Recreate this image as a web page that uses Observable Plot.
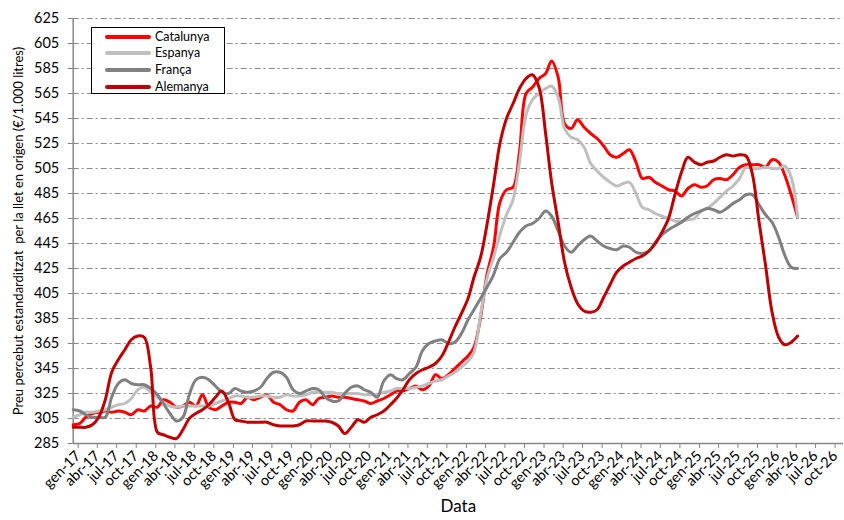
<!DOCTYPE html>
<html>
<head>
<meta charset="utf-8">
<script src="https://cdn.jsdelivr.net/npm/d3@7"></script>
<script src="https://cdn.jsdelivr.net/npm/@observablehq/plot@0.6"></script>
<style>
  body { margin: 0; background: #fff; }
  #wrap { position: relative; width: 844px; height: 520px; font-family: Lato, "Open Sans", sans-serif; }
  #legend { position: absolute; left: 91px; top: 27px; width: 134px; height: 67px; border: 1px solid #000;
            background: #fff; box-sizing: border-box; }
  .lrow { position: absolute; left: 0; height: 16px; font-size: 12.5px; color: #000; }
  .lsw { position: absolute; left: 13px; top: 6px; width: 46px; height: 4px; border-radius: 2px; }
  .ltx { position: absolute; left: 63px; top: 0; white-space: nowrap; line-height: 16px; }
</style>
</head>
<body>
<div id="wrap"></div>
<script>
// ---- data (monthly, gen-17 onwards) ----
const seriesNames = ["Catalunya", "Espanya", "França", "Alemanya"];
const seriesColors = ["#ff0000", "#bfbfbf", "#808080", "#c00000"];

const catalunya = [
  300,301,306,309,310,311,310,311,310,308,
  312,311,315,314,320,318,314,315,318,315,
  324,314,312,315,318,318,317,322,320,322,
  324,318,316,312,311,318,320,316,321,322,
  323,322,322,321,320,319,317,319,321,324,
  327,327,329,331,328,331,340,337,340,345,
  350,355,362,386,420,442,478,488,490,518,
  565,570,577,581,591,578,541,537,544,538,
  533,529,523,516,514,517,520,510,497,498,
  494,491,488,487,483,489,492,490,491,496,
  497,496,500,506,508,508,508,506,512,510,
  500,484,466
];
const espanya = [
  306,308,310,310,311,312,314,316,317,321,
  328,330,326,322,318,315,314,315,315,315,
  315,315,317,319,321,323,323,322,322,323,
  323,322,322,324,323,323,324,326,326,326,
  326,325,325,325,325,324,324,324,326,327,
  329,329,329,330,331,333,335,336,339,342,
  346,351,358,388,417,434,452,468,480,510,
  548,560,565,569,571,562,537,530,528,522,
  509,503,498,494,491,493,494,485,474,472,
  469,467,465,463,463,464,465,471,473,477,
  482,487,491,497,506,505,505,506,505,505,
  507,498,466
];
const franca = [
  312,311,308,306,306,306,322,333,336,333,
  332,332,329,324,317,309,303,306,324,336,
  338,336,331,326,325,329,327,326,327,330,
  337,342,342,338,328,325,327,329,328,322,
  319,319,325,330,331,328,326,322,335,340,
  337,336,341,346,359,365,367,368,365,366,
  373,384,392,401,410,420,433,438,446,454,
  459,461,465,471,467,455,443,438,443,448,
  451,447,443,441,440,443,442,438,437,439,
  446,452,456,459,462,466,469,471,473,472,
  470,473,477,480,484,484,476,468,462,450,
  436,426,425
];
const alemanya = [
  298,298,298,300,306,320,342,352,360,368,
  371,370,345,294,292,290,289,296,305,309,
  312,316,322,327,318,304,303,302,302,302,
  302,300,299,299,299,300,303,303,303,303,
  302,299,293,298,304,302,306,308,311,316,
  321,328,336,341,344,346,349,355,366,378,
  389,401,418,434,460,492,525,545,557,569,
  577,580,570,533,494,462,430,410,397,391,
  390,392,402,412,422,427,430,433,435,439,
  445,454,465,484,502,514,510,508,510,511,
  514,516,515,516,515,500,462,428,390,370,
  364,366,371
];
const seriesValues = [catalunya, espanya, franca, alemanya];

const yTicks = [285,305,325,345,365,385,405,425,445,465,485,505,525,545,565,585,605,625];
const tickLabels = [
  "gen-17","abr-17","jul-17","oct-17","gen-18","abr-18","jul-18","oct-18",
  "gen-19","abr-19","jul-19","oct-19","gen-20","abr-20","jul-20","oct-20",
  "gen-21","abr-21","jul-21","oct-21","gen-22","abr-22","jul-22","oct-22",
  "gen-23","abr-23","jul-23","oct-23","gen-24","abr-24","jul-24","oct-24",
  "gen-25","abr-25","jul-25","oct-25","gen-26","abr-26","jul-26","oct-26"
];
const yTitle = "Preu percebut estandarditzat  per la llet en origen (€/1.000 litres)";
const xTitle = "Data";

// ---- build tables ----
const monthIdx = {gen:0, feb:1, mar:2, abr:3, maig:4, jun:5, jul:6, ag:7, set:8, oct:9, nov:10, des:11};
const tickDates = tickLabels.map(l => { const [m, y] = l.split("-"); return new Date(Date.UTC(2000 + +y, monthIdx[m], 1)); });
const labelByTime = new Map(tickDates.map((d, i) => [d.getTime(), tickLabels[i]]));
const x0 = new Date(Date.UTC(2017, 0, 1));
const xEnd = new Date(Date.UTC(2026, 11, 3));

const tables = seriesNames.map((name, s) =>
  seriesValues[s].map((v, i) => ({serie: name, date: new Date(Date.UTC(2017, i, 1)), value: v})));

const chart = Plot.plot({
  width: 844, height: 520,
  marginLeft: 72.7, marginRight: 1, marginTop: 18, marginBottom: 77,
  style: {fontFamily: "Lato, 'Open Sans', sans-serif", fontSize: "14px", color: "#000", background: "#fff"},
  x: {type: "utc", domain: [x0, xEnd]},
  y: {domain: [285, 625]},
  color: {domain: seriesNames, range: seriesColors},
  marks: [
    Plot.ruleY(yTicks.slice(1), {stroke: "#8a8a8a", strokeDasharray: "6,3,2,3", strokeWidth: 1}),
    Plot.axisY({ticks: yTicks, tickSize: 5, tickPadding: 9, stroke: "#868686", fill: "#000", label: null, fontSize: 14.5}),
    Plot.axisX({ticks: tickDates, tickFormat: d => labelByTime.get(d.getTime()), tickRotate: -45,
                tickSize: 5, tickPadding: 5, dx: 5, stroke: "#868686", fill: "#000", label: null, fontSize: 14.5}),
    Plot.ruleX([x0], {stroke: "#868686", strokeWidth: 1.5}),
    Plot.ruleY([285], {stroke: "#868686", strokeWidth: 1.5}),
    ...tables.map(t => Plot.lineY(t, {x: "date", y: "value", stroke: "serie", strokeWidth: 3, curve: "catmull-rom"})),
    Plot.text([yTitle], {frameAnchor: "left", textAnchor: "middle", dx: -54, rotate: -90, fontSize: 13, fill: "#000"}),
    Plot.text([xTitle], {frameAnchor: "bottom", dy: 68, fontSize: 17, fill: "#000"})
  ]
});

const wrap = document.getElementById("wrap");
wrap.appendChild(chart);

// legend overlay
const legend = document.createElement("div");
legend.id = "legend";
seriesNames.forEach((name, i) => {
  const row = document.createElement("div");
  row.className = "lrow";
  row.style.top = (0.5 + i * 16.7) + "px";
  row.style.width = "100%";
  const sw = document.createElement("span");
  sw.className = "lsw";
  sw.style.background = seriesColors[i];
  const tx = document.createElement("span");
  tx.className = "ltx";
  tx.textContent = name;
  row.appendChild(sw); row.appendChild(tx);
  legend.appendChild(row);
});
wrap.appendChild(legend);
</script>
</body>
</html>
